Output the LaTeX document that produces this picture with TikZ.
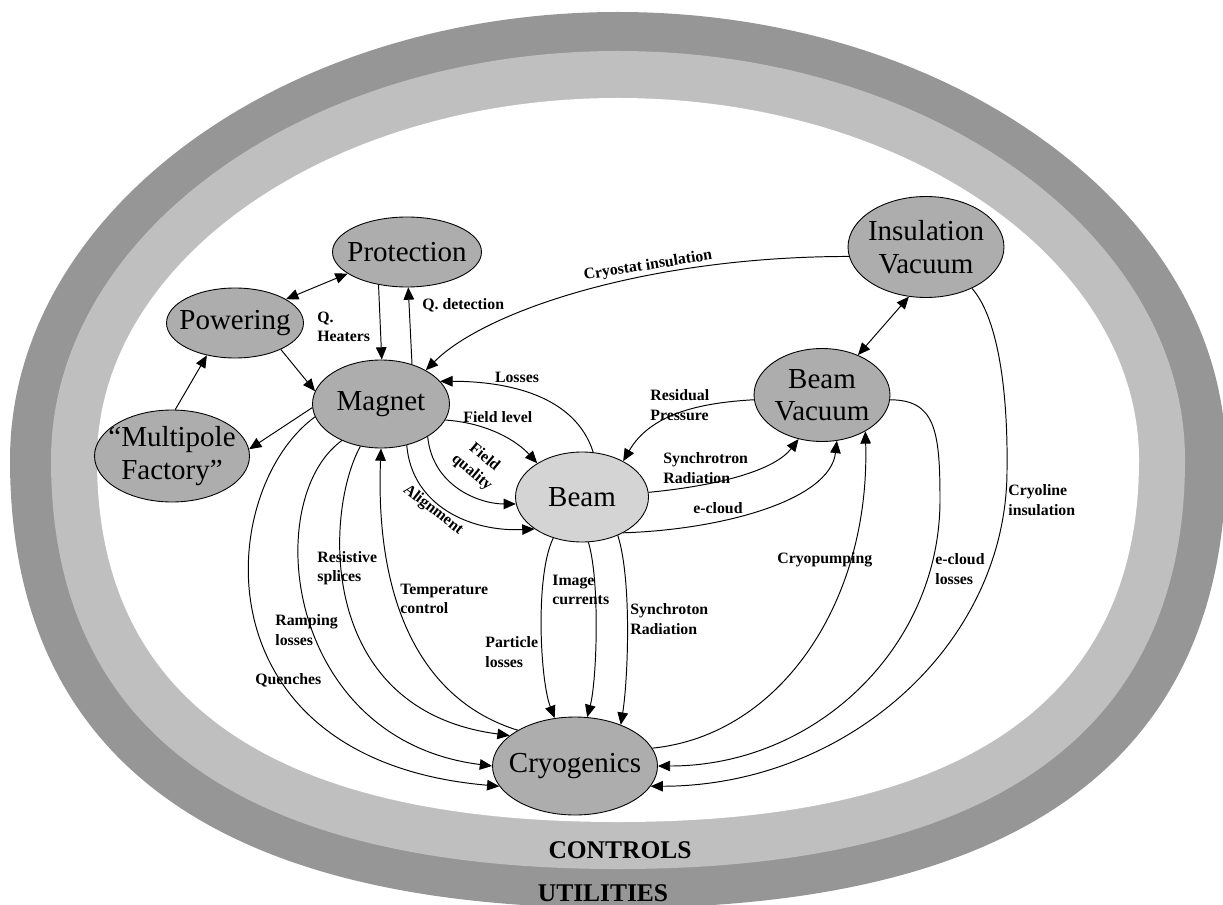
\documentclass[tikz,border=0pt]{standalone}
\usepackage{fontspec}
\setmainfont{Liberation Serif}
\usepackage{tikz}
\usetikzlibrary{arrows.meta, shapes.geometric}
\definecolor{RingDark}{gray}{0.59}
\definecolor{RingLight}{gray}{0.75}
\definecolor{NodeGray}{gray}{0.68}
\definecolor{BeamGray}{gray}{0.83}
\newcommand\ndfont{\fontsize{16.5}{18.5}\selectfont}
\newcommand\lblfont{\bfseries\fontsize{9}{11}\selectfont}
\def\ringcx{618}
\def\ringcy{460}
% oval ring: rounder at the bottom than an ellipse
\newcommand\ringoval[3]{%
  \fill[#1] ({\ringcx+#2},\ringcy)
    .. controls ({\ringcx+#2},{\ringcy+0.664*#3}) and ({\ringcx+0.664*#2},{\ringcy+#3}) .. ({\ringcx},{\ringcy+#3})
    .. controls ({\ringcx-0.664*#2},{\ringcy+#3}) and ({\ringcx-#2},{\ringcy+0.664*#3}) .. ({\ringcx-#2},\ringcy)
    .. controls ({\ringcx-#2},{\ringcy-0.552*#3}) and ({\ringcx-0.552*#2},{\ringcy-#3}) .. ({\ringcx},{\ringcy-#3})
    .. controls ({\ringcx+0.552*#2},{\ringcy-#3}) and ({\ringcx+#2},{\ringcy-0.552*#3}) .. cycle;}
\tikzset{
  nd/.style={ellipse, draw=black, line width=0.5pt, fill=NodeGray, inner sep=0pt,
    label={[font=\ndfont, align=center, inner sep=0pt]center:#1}},
  lbl/.style={font=\lblfont, align=left, inner sep=0pt},
  arr/.style={-{Triangle[length=7pt,width=6pt]}, line width=0.55pt},
  darr/.style={{Triangle[length=7pt,width=6pt]}-{Triangle[length=7pt,width=6pt]}, line width=0.55pt},
  ringtxt/.style={font=\bfseries\fontsize{14.5}{16}\selectfont, inner sep=0pt},
}
\begin{document}
\begin{tikzpicture}[x=0.02cm, y=-0.02cm]
  \useasboundingbox (0,0) rectangle (1223,905);
  \clip (0,0) rectangle (1223,905);
  \ringoval{RingDark}{608}{448}
  \ringoval{RingLight}{567}{409}
  \ringoval{white}{521}{362}
  \node[ringtxt] (ctrl) at (620,850) {CONTROLS};
  \node[ringtxt] (util) at (603,893) {UTILITIES};

  \node[nd=Protection, minimum width=2.98cm, minimum height=1.4cm] (prot) at (407,252) {};
  \node[nd=Powering, minimum width=2.74cm, minimum height=1.4cm] (pow) at (235,323) {};
  \node[nd=Magnet, minimum width=2.74cm, minimum height=1.76cm] (mag) at (381,404) {};
  \node[nd={“Multipole\\Factory”}, minimum width=3.1cm, minimum height=1.84cm] (mpf) at (172,456) {};
  \node[nd=Beam, fill=BeamGray, minimum width=2.66cm, minimum height=1.8cm] (beam) at (582,497) {};
  \node[nd={Beam\\Vacuum}, minimum width=2.72cm, minimum height=1.86cm] (bvac) at (822,395) {};
  \node[nd={Insulation\\Vacuum}, minimum width=3.12cm, minimum height=2.02cm] (ivac) at (926,247) {};
  \node[nd=Cryogenics, minimum width=3.3cm, minimum height=1.96cm] (cryo) at (575,766) {};

  \draw[darr] (pow.25) -- (prot.200);
  \draw[arr] (mpf.86) -- (pow.229);
  \draw[arr] (pow.-30) -- (mag.169);
  \draw[arr] (prot.229) -- (mag.89);
  \draw[arr] (mag.52) -- (prot.-88);
  \draw[arr] (mag.183) -- (mpf.5);
  \draw[arr] (ivac.187) .. controls +(-200,0) and +(60,-60) .. (mag.37);
  \draw[arr] (beam.76) .. controls +(-18,-57) and +(67,0) .. (mag.21);
  \draw[arr] (mag.-14) .. controls +(43,3) and +(-20,-22) .. (beam.143);
  \draw[arr] (mag.-35) .. controls +(5,50) and +(-36,0) .. (beam.186);
  \draw[arr] (mag.-58) .. controls +(5,60) and +(-65,3) .. (beam.214);
  \draw[arr] (bvac.184) .. controls +(-55,3) and +(27,-47) .. (beam.41);
  \draw[arr] (beam.4) .. controls +(72,-7) and +(-24,31) .. (bvac.242);
  \draw[arr] (beam.-41) .. controls +(97,-3) and +(-7,60) .. (bvac.-72);
  \draw[darr] (ivac.251) -- (bvac.48);
  \draw[arr] (cryo.13) .. controls +(129,-13) and +(5,169) .. (bvac.-40);
  \draw[arr] (bvac.-4) .. controls (935,400) and (940,430) .. (940,500)
    .. controls (940,647) and (816,766) .. (cryo.east);
  \draw[arr] (ivac.-42) .. controls (1000,320) and (1008,400) .. (1007,470)
    .. controls (1007,644) and (847,786) .. (cryo.-15);
  \draw[arr] (beam.235) .. controls (535,575) and (540,680) .. (cryo.113);
  \draw[arr] (beam.-82) .. controls (600,580) and (597,680) .. (cryo.76);
  \draw[arr] (beam.-47) .. controls (632,580) and (628,680) .. (cryo.42);
  \draw[arr] (mag.191) .. controls (215,490) and (195,760) .. (cryo.195);
  \draw[arr] (mag.223) .. controls (260,500) and (285,740) .. (cryo.west);
  \draw[arr] (mag.244) .. controls (325,510) and (315,710) .. (cryo.155);
  \draw[arr] (cryo.148) .. controls (420,700) and (375,600) .. (mag.south);

  \node[lbl, anchor=west] (tqh) at (317,327) {Q.\\Heaters};
  \node[lbl, anchor=west] (tqd) at (422,305) {Q. detection};
  \node[lbl, rotate=9] (tcryst) at (648,266) {Cryostat insulation};
  \node[lbl] (tloss) at (517,377) {Losses};
  \node[lbl, anchor=west] (tflev) at (463,417) {Field level};
  \node[lbl, align=center, rotate=-40] (tfq) at (478,465) {Field\\quality};
  \node[lbl, rotate=-38] (talign) at (433,510) {Alignment};
  \node[lbl, anchor=west] (tres) at (650,405) {Residual\\Pressure};
  \node[lbl, anchor=west] (tsyn) at (663,468) {Synchrotron\\Radiation};
  \node[lbl, anchor=west] (tecl) at (693,508) {e-cloud};
  \node[lbl, anchor=west] (tcpump) at (777,560) {Cryopumping};
  \node[lbl, anchor=west] (teclos) at (935,569) {e-cloud\\losses};
  \node[lbl, anchor=west] (tcline) at (1008,500) {Cryoline\\insulation};
  \node[lbl, anchor=west] (tsynb) at (630,619) {Synchroton\\Radiation};
  \node[lbl, anchor=west] (timg) at (552,590) {Image\\currents};
  \node[lbl, anchor=west] (tpart) at (485,652) {Particle\\losses};
  \node[lbl, anchor=west] (ttemp) at (400,599) {Temperature\\control};
  \node[lbl, anchor=west] (trsp) at (317,568) {Resistive\\splices};
  \node[lbl, anchor=west] (tramp) at (275,630) {Ramping\\losses};
  \node[lbl, anchor=west] (tquen) at (255,680) {Quenches};
\end{tikzpicture}
\end{document}
